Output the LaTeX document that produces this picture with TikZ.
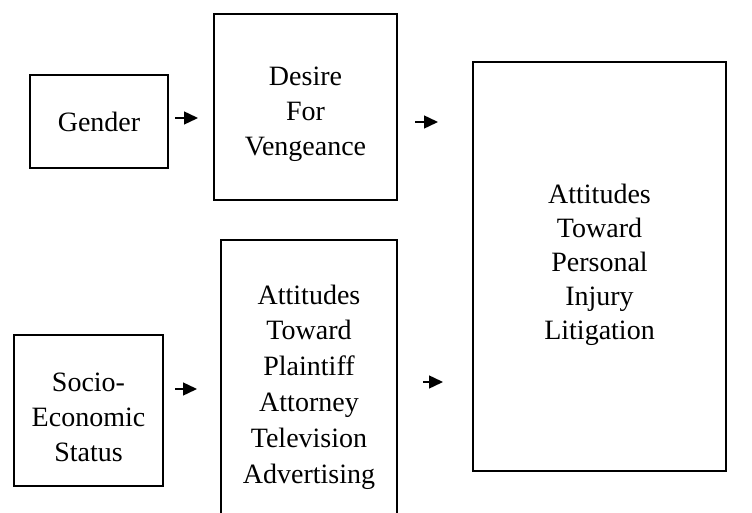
\documentclass[tikz,border=0pt]{standalone}
\usepackage{fontspec}
\setmainfont{Liberation Serif}
\usetikzlibrary{arrows.meta}
\begin{document}
\begin{tikzpicture}[x=1pt,y=1pt,
  box/.style={draw=black, line width=1.6pt, rectangle, inner sep=0pt, align=center,
    font=\fontsize{28}{35}\selectfont},
  bigbox/.style={box, line width=2.4pt},
  txt/.style={inner sep=0pt, align=center, font=\fontsize{28}{35}\selectfont},
  arr/.style={line width=1.4pt, -{Triangle[length=14pt,width=13pt]}}]
\useasboundingbox (0,0) rectangle (752,512);
\node[box, minimum width=138pt, minimum height=93pt] (gender) at (99,390.5) {};
\node[txt] (gendert) at (99,390) {Gender};
\node[box, minimum width=183pt, minimum height=186pt] (desire) at (305.5,405) {};
\node[txt] (desiret) at (305.5,398) {Desire\\For\\Vengeance};
\node[box, minimum width=149pt, minimum height=151pt] (ses) at (88.5,101.5) {};
\node[txt] (sest) at (88.5,95) {Socio-\\Economic\\Status};
\node[box, minimum width=176pt, minimum height=290pt] (ads) at (309,127) {};
\node[txt, font=\fontsize{28}{35.8}\selectfont] (adst) at (309,125) {Attitudes\\Toward\\Plaintiff\\Attorney\\Television\\Advertising};
\node[bigbox, minimum width=253pt, minimum height=409pt] (litig) at (599.5,245.5) {};
\node[txt, font=\fontsize{28}{34}\selectfont] (litigt) at (599.5,247) {Attitudes\\Toward\\Personal\\Injury\\Litigation};
\coordinate (a1s) at (175,394); \coordinate (a1e) at (198,394);
\coordinate (a2s) at (415,390); \coordinate (a2e) at (438,390);
\coordinate (a3s) at (175,123); \coordinate (a3e) at (197,123);
\coordinate (a4s) at (423,130); \coordinate (a4e) at (443,130);
\draw[arr] (a1s) -- (a1e);
\draw[arr] (a2s) -- (a2e);
\draw[arr] (a3s) -- (a3e);
\draw[arr] (a4s) -- (a4e);
\end{tikzpicture}
\end{document}
